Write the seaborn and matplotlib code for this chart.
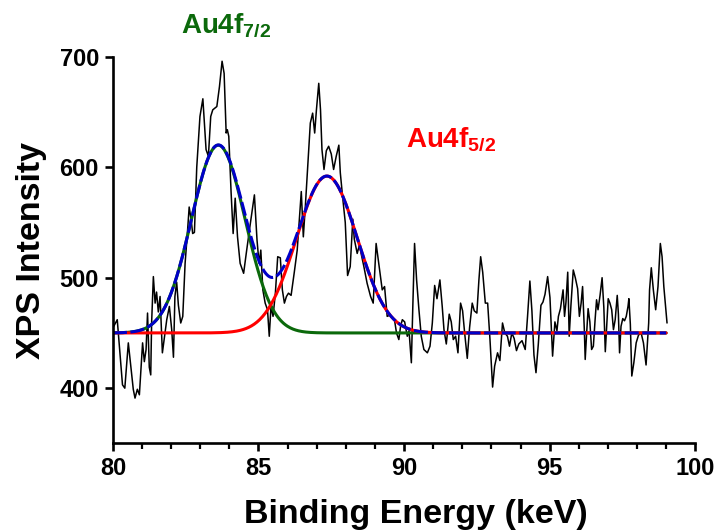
import numpy as np
import pandas as pd
import matplotlib
matplotlib.use("Agg")
import matplotlib.pyplot as plt
import seaborn as sns

# Spectre bruto
energie = [80.03, 80.15, 80.33, 80.41, 80.53, 80.70, 80.76, 80.84, 80.91, 81.02,
           81.08, 81.14, 81.19, 81.25, 81.30, 81.33, 81.39, 81.45, 81.50, 81.56,
           81.62, 81.70, 81.77, 81.85, 81.94, 82.02, 82.08, 82.13, 82.19, 82.25,
           82.33, 82.40, 82.48, 82.56, 82.62, 82.69, 82.74, 82.80, 82.88, 82.99,
           83.09, 83.20, 83.28, 83.36, 83.43, 83.57, 83.66, 83.75, 83.82, 83.89,
           83.93, 83.98, 84.06, 84.13, 84.20, 84.28, 84.37, 84.49, 84.58, 84.72,
           84.86, 84.95, 85.02, 85.08, 85.15, 85.23, 85.31, 85.37, 85.43, 85.50,
           85.58, 85.66, 85.75, 85.82, 85.89, 85.96, 86.03, 86.12, 86.23, 86.33,
           86.40, 86.47, 86.54, 86.61, 86.70, 86.78, 86.86, 86.93, 86.99, 87.07,
           87.13, 87.18, 87.25, 87.33, 87.41, 87.50, 87.58, 87.67, 87.76, 87.81,
           87.89, 87.98, 88.06, 88.15, 88.24, 88.29, 88.39, 88.47, 88.54, 88.62,
           88.73, 88.85, 88.94, 89.04, 89.12, 89.25, 89.33, 89.42, 89.50, 89.59,
           89.67, 89.74, 89.82, 89.88, 89.94, 90.02, 90.11, 90.17, 90.25, 90.30,
           90.36, 90.43, 90.51, 90.59, 90.68, 90.80, 90.89, 90.97, 91.05, 91.13,
           91.23, 91.31, 91.37, 91.45, 91.55, 91.62, 91.69, 91.77, 91.85, 91.94,
           92.01, 92.08, 92.17, 92.25, 92.34, 92.41, 92.50, 92.57, 92.63, 92.70,
           92.79, 92.87, 92.95, 93.04, 93.11, 93.21, 93.29, 93.38, 93.46, 93.55,
           93.62, 93.70, 93.78, 93.86, 93.94, 94.05, 94.16, 94.24, 94.32, 94.39,
           94.46, 94.53, 94.61, 94.70, 94.77, 94.84, 94.93, 95.01, 95.10, 95.18,
           95.25, 95.30, 95.37, 95.46, 95.51, 95.56, 95.62, 95.67, 95.73, 95.81,
           95.88, 95.96, 96.02, 96.08, 96.13, 96.19, 96.22, 96.27, 96.32, 96.38,
           96.44, 96.50, 96.56, 96.61, 96.66, 96.73, 96.80, 96.86, 96.91, 96.97,
           97.01, 97.07, 97.13, 97.19, 97.25, 97.32, 97.36, 97.40, 97.45, 97.51,
           97.57, 97.63, 97.69, 97.72, 97.77, 97.82, 97.89, 97.97, 98.05, 98.14,
           98.22, 98.31, 98.40, 98.43, 98.49, 98.56, 98.64, 98.72, 98.80, 98.86,
           98.92, 99.03]
intensite = [456, 462, 403, 400, 441, 399, 391, 399, 394, 441,
             424, 435, 468, 419, 412, 459, 501, 477, 487, 469,
             483, 432, 446, 462, 474, 453, 428, 483, 496, 475,
             459, 465, 513, 541, 564, 552, 540, 541, 600, 646,
             662, 616, 610, 646, 652, 655, 673, 696, 685, 631,
             634, 628, 577, 540, 572, 537, 513, 504, 522, 549,
             575, 534, 513, 525, 489, 477, 471, 447, 474, 465,
             486, 519, 518, 489, 477, 483, 486, 484, 505, 525,
             552, 578, 537, 565, 605, 640, 649, 631, 652, 676,
             652, 616, 598, 615, 619, 612, 598, 610, 620, 595,
             573, 550, 502, 510, 553, 535, 522, 530, 520, 510,
             495, 483, 477, 531, 515, 489, 492, 465, 466, 464,
             462, 450, 444, 456, 462, 460, 447, 452, 423, 474,
             531, 498, 471, 447, 435, 432, 438, 459, 493, 481,
             498, 474, 453, 440, 467, 460, 444, 447, 432, 477,
             470, 450, 427, 455, 477, 470, 468, 498, 519, 505,
             477, 477, 444, 401, 420, 432, 425, 459, 450, 447,
             438, 450, 445, 434, 440, 443, 435, 465, 497, 470,
             430, 414, 440, 475, 478, 485, 501, 482, 429, 460,
             452, 465, 472, 489, 465, 478, 505, 447, 475, 507,
             500, 490, 465, 477, 492, 453, 426, 450, 472, 460,
             435, 438, 462, 480, 471, 484, 500, 473, 433, 462,
             481, 477, 471, 453, 462, 484, 467, 432, 456, 463,
             461, 465, 474, 481, 458, 411, 423, 441, 448, 450,
             441, 421, 459, 489, 509, 489, 471, 492, 531, 519,
             492, 459]

# Parametres des deux gaussiennes ajustees
ligne_base = 450
centres = [83.62, 87.35]
hauteurs = [170, 142]
sigmas = [0.92, 1.04]
noms_pics = ["Au4f$_{\\mathbf{7/2}}$", "Au4f$_{\\mathbf{5/2}}$"]
cores = ["#0b690b", "#ff0000"]
cor_soma = "#0000c8"

df_brut = pd.DataFrame({"energie": energie, "intensite": intensite})

grille = np.linspace(80, 99, 600)
pics = [ligne_base + h * np.exp(-(grille - c) ** 2 / (2 * s ** 2))
        for c, h, s in zip(centres, hauteurs, sigmas)]
soma = pics[0] + pics[1] - ligne_base

sns.set_style("ticks")
plt.rcParams["font.family"] = ["Liberation Sans", "DejaVu Sans"]
plt.rcParams["font.weight"] = "bold"
plt.rcParams["mathtext.fontset"] = "custom"
plt.rcParams["mathtext.bf"] = "Liberation Sans:bold"
plt.rcParams["mathtext.rm"] = "Liberation Sans:bold"
for chave in ["text.color", "axes.labelcolor", "xtick.color", "ytick.color",
              "axes.edgecolor"]:
    plt.rcParams[chave] = "black"

fig = plt.figure(figsize=(7.19, 5.31), dpi=100)
ax = fig.add_axes([0.157, 0.165, 0.81, 0.728])

sns.lineplot(data=df_brut, x="energie", y="intensite", color="black",
             linewidth=1.1, sort=False, ax=ax)
for curva, cor in zip(pics, cores):
    sns.lineplot(x=grille, y=curva, color=cor, linewidth=2.2, ax=ax)
sns.lineplot(x=grille, y=soma, color=cor_soma, linewidth=2.2,
             linestyle=(0, (4.6, 1.15)), ax=ax)

ax.set_xlim(80, 100)
ax.set_ylim(350, 700)
ax.set_xticks([80, 85, 90, 95, 100])
ax.set_xticks(np.arange(80, 101, 1), minor=True)
ax.set_yticks([400, 500, 600, 700])

for lado in ["top", "right"]:
    ax.spines[lado].set_visible(False)
for lado in ["left", "bottom"]:
    ax.spines[lado].set_linewidth(1.9)

ax.tick_params(axis="both", which="major", length=6, width=1.9,
               labelsize=17, pad=4)
ax.tick_params(axis="x", which="minor", length=4, width=1.6)

ax.set_xlabel("Binding Energy (keV)", fontsize=24.5, fontweight="bold")
ax.set_ylabel("XPS Intensity", fontsize=24.5, fontweight="bold", labelpad=9)
ax.xaxis.set_label_coords(0.52, -0.145)

ax.text(82.35, 721, noms_pics[0], color=cores[0], fontsize=20,
        fontweight="bold", va="baseline", clip_on=False)
ax.text(90.05, 618, noms_pics[1], color=cores[1], fontsize=20,
        fontweight="bold", va="baseline", clip_on=False)

plt.savefig("out.png", dpi=100)
